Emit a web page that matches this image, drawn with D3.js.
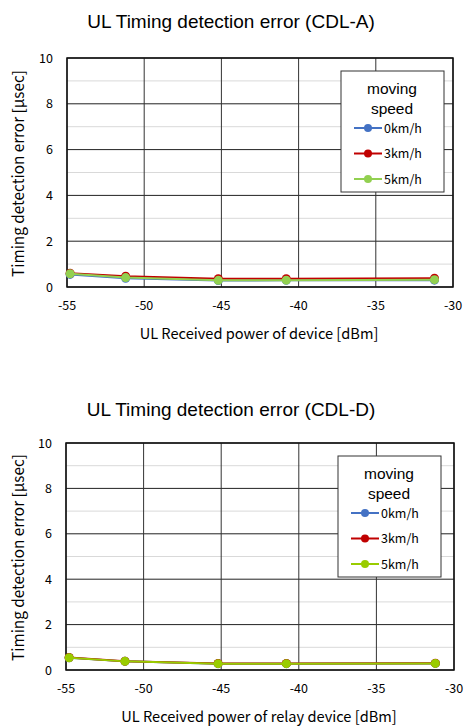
<!DOCTYPE html>
<html lang="en">
<head>
  <meta charset="UTF-8">
  <title>UL Timing detection error</title>
  <script src="https://d3js.org/d3.v7.min.js"></script>
</head>
<body style="margin: 0; padding: 0; overflow: hidden; background: #fff;">
  <svg id="svg-container"></svg>

  <script>
    // received power points (dBm), same for both charts
    const powerA = [-54.8, -51.2, -45.2, -40.8, -31.2];
    const powerD = [-54.8, -51.2, -45.2, -40.8, -31.2];

    const speeds = ["0km/h", "3km/h", "5km/h"];

    // CDL-A timing error [usec]
    const cdlA_0 = [0.55, 0.38, 0.28, 0.29, 0.30];
    const cdlA_3 = [0.60, 0.47, 0.36, 0.36, 0.38];
    const cdlA_5 = [0.58, 0.41, 0.29, 0.30, 0.32];

    // CDL-D timing error [usec]
    const cdlD_0 = [0.54, 0.38, 0.28, 0.28, 0.29];
    const cdlD_3 = [0.55, 0.39, 0.29, 0.29, 0.30];
    const cdlD_5 = [0.54, 0.38, 0.28, 0.28, 0.29];

    const xTicks = [-55, -50, -45, -40, -35, -30];
    const yTicks = [0, 2, 4, 6, 8, 10];
    const yMinor = [1, 3, 5, 7, 9];

    const svg = d3.select("#svg-container")
      .attr("width", 465)
      .attr("height", 726);

    const labelFont = "'Noto Sans CJK JP', 'DejaVu Sans', sans-serif";
    const titleFont = "'Liberation Sans', Arial, sans-serif";

    function drawChart(cfg) {
      const g = svg.append("g");
      const x = d3.scaleLinear().domain([-55, -30]).range([cfg.left, cfg.right]);
      const y = d3.scaleLinear().domain([0, 10]).range([cfg.bottom, cfg.top]);

      // title
      g.append("text")
        .attr("x", 231).attr("y", cfg.titleY)
        .attr("text-anchor", "middle")
        .attr("font-family", titleFont)
        .attr("font-size", "19px")
        .text(cfg.title);

      // minor gridlines
      g.selectAll(".minor")
        .data(yMinor).enter()
        .append("line")
        .attr("x1", cfg.left).attr("x2", cfg.right)
        .attr("y1", d => y(d)).attr("y2", d => y(d))
        .attr("stroke", "#d9d9d9").attr("stroke-width", 1);

      // major gridlines
      g.selectAll(".hmajor")
        .data(yTicks).enter()
        .append("line")
        .attr("x1", cfg.left).attr("x2", cfg.right)
        .attr("y1", d => y(d)).attr("y2", d => y(d))
        .attr("stroke", "#222").attr("stroke-width", 1);

      g.selectAll(".vmajor")
        .data(xTicks).enter()
        .append("line")
        .attr("x1", d => x(d)).attr("x2", d => x(d))
        .attr("y1", cfg.top).attr("y2", cfg.bottom)
        .attr("stroke", "#333").attr("stroke-width", 1);

      // frame
      g.append("rect")
        .attr("x", cfg.left).attr("y", cfg.top)
        .attr("width", cfg.right - cfg.left)
        .attr("height", cfg.bottom - cfg.top)
        .attr("fill", "none")
        .attr("stroke", "#111").attr("stroke-width", 1.5);

      // tick labels
      g.selectAll(".xt")
        .data(xTicks).enter()
        .append("text")
        .attr("x", d => x(d)).attr("y", cfg.bottom + 23)
        .attr("text-anchor", "middle")
        .attr("font-family", labelFont)
        .attr("font-size", "12.5px")
        .text(d => d);

      g.selectAll(".yt")
        .data(yTicks).enter()
        .append("text")
        .attr("x", cfg.left - 14).attr("y", d => y(d) + 4.5)
        .attr("text-anchor", "end")
        .attr("font-family", labelFont)
        .attr("font-size", "12.5px")
        .text(d => d);

      // axis titles
      g.append("text")
        .attr("x", 259).attr("y", cfg.bottom + 52)
        .attr("text-anchor", "middle")
        .attr("font-family", labelFont)
        .attr("font-size", "14.6px")
        .text(cfg.xLabel);

      g.append("text")
        .attr("transform", `translate(24, ${(cfg.top + cfg.bottom) / 2 + 1}) rotate(-90)`)
        .attr("text-anchor", "middle")
        .attr("font-family", labelFont)
        .attr("font-size", "15.3px")
        .text("Timing detection error [μsec]");

      // series
      const line = d3.line()
        .x((d, i) => x(cfg.power[i]))
        .y(d => y(d));

      cfg.series.forEach((vals, k) => {
        g.append("path")
          .attr("d", line(vals))
          .attr("fill", "none")
          .attr("stroke", cfg.colors[k])
          .attr("stroke-width", 2);
        g.selectAll(".pt" + k)
          .data(vals).enter()
          .append("circle")
          .attr("cx", (d, i) => x(cfg.power[i]))
          .attr("cy", d => y(d))
          .attr("r", 4.5)
          .attr("fill", cfg.colors[k]);
      });

      // legend
      const lg = g.append("g");
      lg.append("rect")
        .attr("x", cfg.legX).attr("y", cfg.legY)
        .attr("width", 103).attr("height", 121)
        .attr("fill", "#fff")
        .attr("stroke", "#333").attr("stroke-width", 1);
      lg.append("text")
        .attr("x", cfg.legX + 51).attr("y", cfg.legY + 23)
        .attr("text-anchor", "middle")
        .attr("font-family", titleFont)
        .attr("font-size", "15.5px")
        .text("moving");
      lg.append("text")
        .attr("x", cfg.legX + 51).attr("y", cfg.legY + 43)
        .attr("text-anchor", "middle")
        .attr("font-family", titleFont)
        .attr("font-size", "15.5px")
        .text("speed");
      speeds.forEach((s, k) => {
        const yy = cfg.legY + 57 + k * 25.5;
        lg.append("line")
          .attr("x1", cfg.legX + 13).attr("x2", cfg.legX + 41)
          .attr("y1", yy).attr("y2", yy)
          .attr("stroke", cfg.colors[k]).attr("stroke-width", 2);
        lg.append("circle")
          .attr("cx", cfg.legX + 27).attr("cy", yy)
          .attr("r", 4).attr("fill", cfg.colors[k]);
        lg.append("text")
          .attr("x", cfg.legX + 43).attr("y", yy + 4.5)
          .attr("font-family", labelFont)
          .attr("font-size", "12.5px")
          .text(s);
      });
    }

    drawChart({
      title: "UL Timing detection error (CDL-A)",
      titleY: 28,
      xLabel: "UL Received power of device [dBm]",
      left: 67, right: 453, top: 58, bottom: 287,
      power: powerA,
      series: [cdlA_0, cdlA_3, cdlA_5],
      colors: ["#4472c4", "#c00000", "#92d050"],
      legX: 341, legY: 71
    });

    drawChart({
      title: "UL Timing detection error (CDL-D)",
      titleY: 416,
      xLabel: "UL Received power of relay device [dBm]",
      left: 66, right: 454, top: 443, bottom: 670,
      power: powerD,
      series: [cdlD_0, cdlD_3, cdlD_5],
      colors: ["#4472c4", "#c00000", "#99cc00"],
      legX: 338, legY: 456
    });
  </script>
</body>
</html>
